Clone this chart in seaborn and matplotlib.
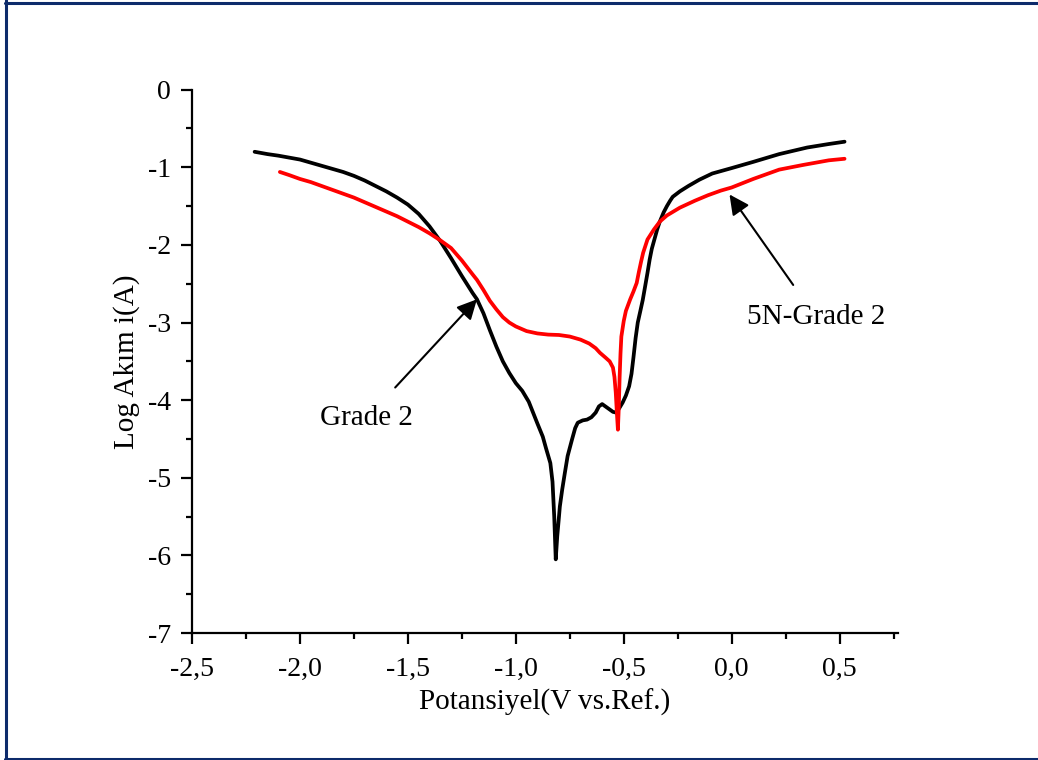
import matplotlib
matplotlib.use("Agg")
import matplotlib.pyplot as plt
import seaborn as sns
import pandas as pd
from matplotlib.lines import Line2D
from matplotlib.ticker import FuncFormatter, MultipleLocator

# --- datos ---
grade2_v = [-2.21, -2.15, -2.1, -2.05, -2.0, -1.95, -1.9, -1.85, -1.8, -1.75, -1.7,
            -1.65, -1.6, -1.55, -1.5, -1.45, -1.4, -1.35, -1.3, -1.25, -1.2, -1.18,
            -1.15, -1.12, -1.09, -1.06, -1.03, -1.0, -0.97, -0.94, -0.92, -0.9,
            -0.875, -0.86, -0.84, -0.83, -0.822, -0.815, -0.808, -0.8, -0.796,
            -0.785, -0.773, -0.76, -0.74, -0.725, -0.713, -0.69, -0.67, -0.65,
            -0.63, -0.615, -0.6, -0.585, -0.565, -0.55, -0.535, -0.52, -0.505,
            -0.49, -0.475, -0.464, -0.455, -0.445, -0.435, -0.423, -0.412, -0.4,
            -0.39, -0.38, -0.37, -0.355, -0.345, -0.333, -0.315, -0.3, -0.285,
            -0.273, -0.24, -0.2, -0.15, -0.09, 0.0, 0.1, 0.22, 0.35, 0.45, 0.523]
grade2_logi = [-0.80, -0.83, -0.85, -0.875, -0.90, -0.94, -0.98, -1.02, -1.06, -1.11, -1.17,
               -1.24, -1.31, -1.39, -1.48, -1.60, -1.76, -1.95, -2.17, -2.40, -2.62, -2.70,
               -2.88, -3.10, -3.31, -3.50, -3.65, -3.78, -3.88, -4.02, -4.16, -4.30,
               -4.47, -4.62, -4.81, -5.05, -5.50, -6.05, -5.75, -5.50, -5.37,
               -5.15, -4.94, -4.72, -4.51, -4.36, -4.29, -4.26, -4.25, -4.22,
               -4.16, -4.08, -4.05, -4.08, -4.12, -4.15, -4.16, -4.10, -4.03,
               -3.94, -3.82, -3.66, -3.45, -3.20, -3.00, -2.85, -2.71, -2.52,
               -2.36, -2.19, -2.05, -1.90, -1.80, -1.70, -1.58, -1.50, -1.43,
               -1.38, -1.31, -1.24, -1.16, -1.08, -1.01, -0.93, -0.83, -0.745, -0.70, -0.67]

n5_v = [-2.093, -2.05, -2.0, -1.95, -1.9, -1.85, -1.8, -1.75, -1.7, -1.65, -1.6,
        -1.55, -1.5, -1.45, -1.4, -1.35, -1.3, -1.25, -1.2, -1.18, -1.15, -1.12,
        -1.09, -1.06, -1.03, -1.0, -0.95, -0.9, -0.85, -0.8, -0.75, -0.7, -0.66,
        -0.63, -0.61, -0.585, -0.565, -0.55, -0.543, -0.537, -0.532, -0.527,
        -0.523, -0.519, -0.515, -0.511, -0.5, -0.49, -0.47, -0.455, -0.44, -0.43,
        -0.42, -0.41, -0.39, -0.36, -0.333, -0.3, -0.24, -0.17, -0.11, -0.05,
        0.0, 0.1, 0.22, 0.33, 0.45, 0.523]
n5_logi = [-1.06, -1.10, -1.15, -1.19, -1.24, -1.29, -1.34, -1.39, -1.45, -1.51, -1.57,
           -1.63, -1.70, -1.77, -1.85, -1.94, -2.04, -2.20, -2.38, -2.45, -2.58, -2.72,
           -2.83, -2.93, -3.00, -3.05, -3.11, -3.14, -3.155, -3.16, -3.18, -3.22, -3.27,
           -3.33, -3.39, -3.45, -3.50, -3.58, -3.70, -3.90, -4.15, -4.38,
           -4.10, -3.70, -3.40, -3.18, -2.98, -2.85, -2.70, -2.60, -2.49, -2.35,
           -2.22, -2.10, -1.93, -1.80, -1.70, -1.62, -1.52, -1.43, -1.36, -1.30,
           -1.26, -1.15, -1.03, -0.97, -0.91, -0.89]

grade2_df = pd.DataFrame({"V": grade2_v, "logi": grade2_logi})
n5_df = pd.DataFrame({"V": n5_v, "logi": n5_logi})

sns.set_theme(style="ticks")
plt.rcParams["font.family"] = ["Liberation Serif", "DejaVu Serif"]
plt.rcParams["text.color"] = "black"
plt.rcParams["axes.labelcolor"] = "black"

fig = plt.figure(figsize=(10.38, 7.6), dpi=100)
ax = fig.add_axes([0.185, 0.167, 0.68, 0.715])

sns.lineplot(data=grade2_df, x="V", y="logi", sort=False, estimator=None,
             color="black", linewidth=2.7, ax=ax)
sns.lineplot(data=n5_df, x="V", y="logi", sort=False, estimator=None,
             color="#ff0000", linewidth=2.7, ax=ax)

ax.set_xlim(-2.5, 0.77)
ax.set_ylim(-7, 0)
ax.xaxis.set_major_locator(MultipleLocator(0.5))
ax.xaxis.set_minor_locator(MultipleLocator(0.25))
ax.yaxis.set_major_locator(MultipleLocator(1))
ax.yaxis.set_minor_locator(MultipleLocator(0.5))
ax.xaxis.set_major_formatter(FuncFormatter(lambda v, p: f"{v:.1f}".replace(".", ",")))
ax.yaxis.set_major_formatter(FuncFormatter(lambda v, p: f"{v:.0f}"))

sns.despine(ax=ax)
for s in ["left", "bottom"]:
    ax.spines[s].set_linewidth(1.6)
    ax.spines[s].set_color("black")
ax.tick_params(which="major", length=8, width=1.6, labelsize=20, colors="black")
ax.tick_params(axis="x", which="major", pad=9)
ax.tick_params(axis="y", which="major", pad=7)
ax.tick_params(which="minor", length=4, width=1.6, colors="black")

ax.set_xlabel("Potansiyel(V vs.Ref.)", fontsize=21, labelpad=5)
ax.set_ylabel("Log Akım i(A)", fontsize=21, labelpad=6)

ax.annotate("Grade 2", xy=(-1.18, -2.70), xytext=(-1.69, -4.23),
            fontsize=21, ha="center", va="center",
            arrowprops=dict(arrowstyle="-|>", color="black", lw=1.5,
                            mutation_scale=30, shrinkA=14, shrinkB=0))
ax.annotate("5N-Grade 2", xy=(-0.01, -1.35), xytext=(0.39, -2.93),
            fontsize=21, ha="center", va="center",
            arrowprops=dict(arrowstyle="-|>", color="black", lw=1.5,
                            mutation_scale=30, shrinkA=14, shrinkB=0))

# marco azul de la figura
frame = "#0d2b6b"
fig.add_artist(Line2D([5.5 / 1038, 5.5 / 1038], [0, 1], transform=fig.transFigure, color=frame, lw=2.2))
fig.add_artist(Line2D([5 / 1038, 1], [1 - 3 / 760, 1 - 3 / 760], transform=fig.transFigure, color=frame, lw=2.2))
fig.add_artist(Line2D([5 / 1038, 1], [1.5 / 760, 1.5 / 760], transform=fig.transFigure, color=frame, lw=2.2))

fig.savefig("out.png", dpi=100)
